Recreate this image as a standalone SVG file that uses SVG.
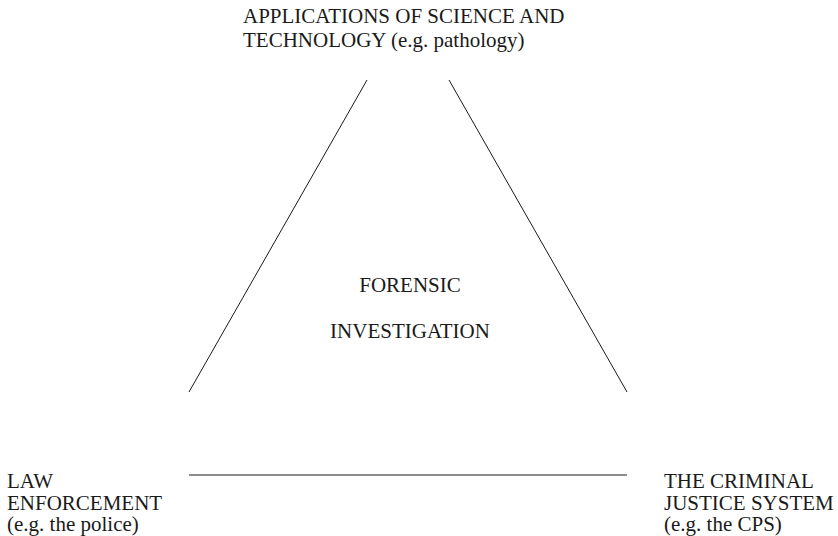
<svg xmlns="http://www.w3.org/2000/svg" width="838" height="536" viewBox="0 0 838 536">
  <style>
    text { font-family: "Liberation Serif", "Times New Roman", serif; font-size: 21px; fill: #1a1a1a; }
    .edge { stroke: #1a1a1a; stroke-width: 1; fill: none; }
  </style>
  <rect width="838" height="536" fill="#ffffff"/>
  <!-- three sides of the open triangle -->
  <g id="connectors">
    <line class="edge" x1="367" y1="80" x2="189" y2="392"/>
    <line class="edge" x1="449" y1="80" x2="627" y2="392"/>
    <line class="edge" x1="189" y1="475" x2="627" y2="475"/>
  </g>
  <g id="science">
    <text x="243" y="23">APPLICATIONS OF SCIENCE AND</text>
    <text x="243" y="47">TECHNOLOGY (e.g. pathology)</text>
  </g>
  <g id="forensic">
    <text x="410" y="292" text-anchor="middle">FORENSIC</text>
    <text x="410" y="338" text-anchor="middle">INVESTIGATION</text>
  </g>
  <g id="law">
    <text x="7" y="488">LAW</text>
    <text x="7" y="509.5">ENFORCEMENT</text>
    <text x="7" y="530.5">(e.g. the police)</text>
  </g>
  <g id="justice">
    <text x="664" y="488">THE CRIMINAL</text>
    <text x="664" y="509.5">JUSTICE SYSTEM</text>
    <text x="664" y="530.5">(e.g. the CPS)</text>
  </g>
</svg>
